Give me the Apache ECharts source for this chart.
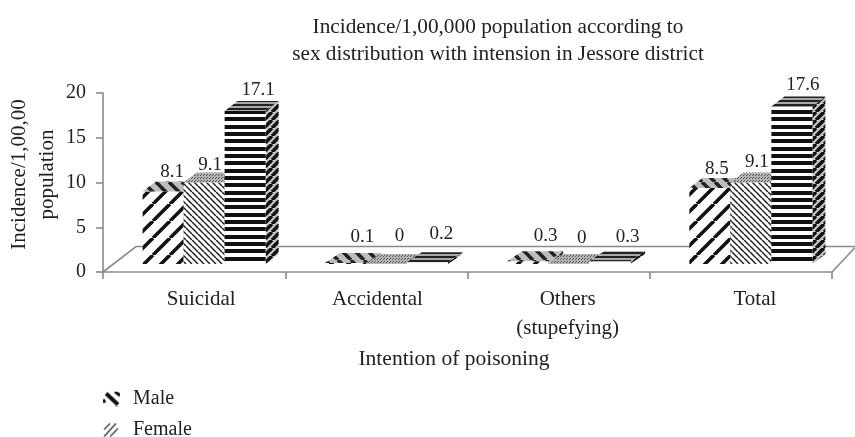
<!DOCTYPE html>
<html><head><meta charset="utf-8"><style>html,body{margin:0;padding:0;background:#fff}#c{width:855px;height:437px}</style>
<script src="https://cdn.jsdelivr.net/npm/echarts@6/dist/echarts.min.js"></script></head><body><div id="c"></div>
<script>
const categories = ['Suicidal', 'Accidental', 'Others\n(stupefying)', 'Total'];
const male = [8.1, 0.1, 0.3, 8.5];
const female = [9.1, 0, 0, 9.1];
const total = [17.1, 0.2, 0.3, 17.6];
const legendNames = ['Male', 'Female'];
const yTicks = [0, 5, 10, 15, 20];
const FONT = '"Liberation Serif", serif';

function tile(w, h, draw) {
  const c = document.createElement('canvas'); c.width = w; c.height = h;
  const g = c.getContext('2d'); draw(g, w, h);
  return { image: c, repeat: 'repeat' };
}
function diag(bg, fg, s, lw, up) {
  return tile(s, s, (g) => {
    g.fillStyle = bg; g.fillRect(0, 0, s, s);
    g.strokeStyle = fg; g.lineWidth = lw;
    for (let k = -1; k <= 1; k++) {
      g.beginPath();
      if (up) { g.moveTo(k * s, s); g.lineTo(k * s + s, 0); }
      else { g.moveTo(k * s, 0); g.lineTo(k * s + s, s); }
      g.stroke();
    }
  });
}
const hStripes = (bg, fg, h, n, t) => tile(4, h, (g) => {
  g.fillStyle = bg; g.fillRect(0, 0, 4, h); g.fillStyle = fg;
  for (let i = 0; i < n; i++) g.fillRect(0, Math.round(i * h / n), 4, t);
});
const stipple = tile(3, 3, (g) => {
  g.fillStyle = '#b5b5b5'; g.fillRect(0, 0, 3, 3);
  g.fillStyle = '#555'; g.fillRect(0, 0, 1, 1); g.fillRect(2, 1, 1, 1);
});
const styles = [
  { front: diag('#fff', '#111', 17, 3.6, true), top: diag('#bdbdbd', '#222', 13, 3.6, false), side: diag('#bbb', '#222', 8, 3, true) },
  { front: diag('#fff', '#222', 6, 1.5, false), top: stipple, side: diag('#ccc', '#333', 4, 1, false) },
  { front: hStripes('#fff', '#111', 22, 3, 4), top: hStripes('#a8a8a8', '#222', 4, 1, 2), side: diag('#c8c8c8', '#111', 8, 3.6, true) }
];
const legendMale = tile(17, 15, (g) => {
  g.fillStyle = '#fff'; g.fillRect(0, 0, 17, 15);
  g.strokeStyle = '#111'; g.lineWidth = 4;
  g.beginPath(); g.moveTo(3, 2); g.lineTo(15, 13); g.stroke();
  g.lineWidth = 3;
  g.beginPath(); g.moveTo(12, 0); g.lineTo(17, 4); g.stroke();
  g.beginPath(); g.moveTo(0, 8); g.lineTo(2, 11); g.stroke();
});
const legendFemale = tile(17, 15, (g) => {
  g.fillStyle = '#fff'; g.fillRect(0, 0, 17, 15);
  g.strokeStyle = '#444'; g.lineWidth = 1.5;
  [[1, 7, 7, 1], [1, 14, 13, 1], [7, 14, 15, 6]].forEach(p => {
    g.beginPath(); g.moveTo(p[0], p[1]); g.lineTo(p[2], p[3]); g.stroke();
  });
});

// small hand placement of the value labels: [dx, lift above the bar's back top edge]
const labelNudge = [
  [[-4, 9], [2, 16], [3, 15], [-6, 9]],
  [[-7, 8], [-2, 18], [-2, 16], [-7, 11]],
  [[0, 11], [-1, 18], [3, 14], [-2, 11]]
];
// horizontal nudge of the category labels from the band centres
const catLabelShift = [7, 1, 9, 14];
const BACK = 8, SHIFT = 10, DEPTH_X = 13, DEPTH_Y = 10;

function barRenderer(si) {
  return function (params, api) {
    const idx = api.value(0), val = api.value(1);
    const c0 = api.coord([idx, 0]), c1 = api.coord([idx, val]);
    const bw = api.size([1, 0])[0] * 0.225;
    const x0 = c0[0] + SHIFT + (si - 1.5) * bw, x1 = x0 + bw;
    const yb = c0[1] - BACK, yt = c1[1] - BACK;
    const s = styles[si];
    const dx = val < 1 ? 15 : DEPTH_X;
    const ch = [];
    const base = (si + 1) * 10;
    const poly = (pts, fill, o) => ch.push({ type: 'polygon', z2: base + o, shape: { points: pts }, style: { fill: fill, stroke: null } });
    poly([[x1, yt], [x1 + dx, yt - DEPTH_Y], [x1 + dx, yb - DEPTH_Y], [x1, yb]], s.side, 0);
    poly([[x0, yb], [x1, yb], [x1, yt], [x0, yt]], s.front, 1);
    poly([[x0, yt], [x0 + dx, yt - DEPTH_Y], [x1 + dx, yt - DEPTH_Y], [x1, yt]], s.top, 2);
    const n = labelNudge[si][idx];
    ch.push({
      type: 'text',
      z2: 100,
      style: {
        x: (x0 + x1) / 2 + dx + n[0], y: yt - DEPTH_Y - n[1],
        text: String(val), fill: '#222', font: '19px ' + FONT, align: 'center', verticalAlign: 'middle'
      }
    });
    return { type: 'group', children: ch };
  };
}
function floorRenderer(params, api) {
  const cs = params.coordSys, y0 = api.coord([0, 0])[1];
  const line = (pts) => ({ type: 'polyline', z2: 1, shape: { points: pts }, style: { stroke: '#8a8a8a', lineWidth: 1.6, fill: null } });
  return { type: 'group', children: [
    line([[cs.x, y0], [cs.x + 33, y0 - 25.5], [cs.x + cs.width + 40, y0 - 25.5]]),
    line([[cs.x + cs.width, y0], [cs.x + cs.width + 24, y0 - 25.5]])
  ] };
}
const axisCommon = { lineStyle: { color: '#8a8a8a', width: 1.6 } };
const catColor = '#222';
const catRich = {};
catLabelShift.forEach((d, i) => {
  catRich['c' + i] = { fontFamily: FONT, fontSize: 21, color: catColor, lineHeight: 29, padding: [0, 0, 0, d * 2] };
});
function legendBlock(name, color, top) {
  return {
    orient: 'vertical', left: 98, top: top, itemWidth: 17, itemHeight: 15, icon: 'rect',
    textStyle: { fontFamily: FONT, fontSize: 20, color: '#222', padding: [0, 0, 0, 8] },
    data: [{ name: name, itemStyle: { color: color } }]
  };
}
const chart = echarts.init(document.getElementById('c'), null, { renderer: 'canvas' });
chart.setOption({
  animation: false,
  backgroundColor: '#fff',
  title: {
    text: 'Incidence/1,00,000 population according to\nsex distribution with intension in Jessore district',
    left: 493, top: 9, textAlign: 'center',
    textStyle: { fontFamily: FONT, fontSize: 21.3, fontWeight: 'normal', color: '#222', lineHeight: 27 }
  },
  legend: [legendBlock(legendNames[0], legendMale, 384), legendBlock(legendNames[1], legendFemale, 415)],
  grid: { left: 103, right: 23, top: 93, bottom: 165, outerBoundsMode: 'none' },
  xAxis: {
    type: 'category', data: categories,
    axisLine: axisCommon, axisTick: { show: true, length: 7, lineStyle: axisCommon.lineStyle },
    axisLabel: {
      margin: 13, interval: 0, color: catColor, hideOverlap: false,
      formatter: (v, i) => v.split('\n').map(t => '{c' + i + '|' + t + '}').join('\n'),
      rich: catRich
    },
    name: 'Intention of poisoning', nameLocation: 'middle', nameGap: 76, nameMoveOverlap: false,
    nameTextStyle: { fontFamily: FONT, fontSize: 21.5, color: catColor, padding: [0, 27, 0, 0] }
  },
  yAxis: {
    type: 'value', min: yTicks[0], max: yTicks[4], interval: yTicks[1],
    splitLine: { show: false },
    axisLine: Object.assign({ show: true }, axisCommon), axisTick: { show: true, length: 7, lineStyle: axisCommon.lineStyle },
    axisLabel: { fontFamily: FONT, fontSize: 20, color: catColor, margin: 17, padding: [3, 0, 0, 0] },
    name: 'Incidence/1,00,00\npopulation', nameLocation: 'middle', nameGap: 42, nameRotate: 90, nameMoveOverlap: false,
    nameTextStyle: { fontFamily: FONT, fontSize: 21, color: catColor, lineHeight: 28, padding: [0, 0, 0, 16] }
  },
  series: [
    { type: 'custom', name: 'floor', renderItem: floorRenderer, data: [[0, 0]], clip: false, z: 2, silent: true },
    { type: 'custom', name: legendNames[0], renderItem: barRenderer(0), data: male.map((v, i) => [i, v]), encode: { x: 0, y: 1 }, clip: false, z: 2, itemStyle: { color: legendMale } },
    { type: 'custom', name: legendNames[1], renderItem: barRenderer(1), data: female.map((v, i) => [i, v]), encode: { x: 0, y: 1 }, clip: false, z: 2, itemStyle: { color: legendFemale } },
    { type: 'custom', name: 'Total', renderItem: barRenderer(2), data: total.map((v, i) => [i, v]), encode: { x: 0, y: 1 }, clip: false, z: 2 }
  ]
});
</script></body></html>
